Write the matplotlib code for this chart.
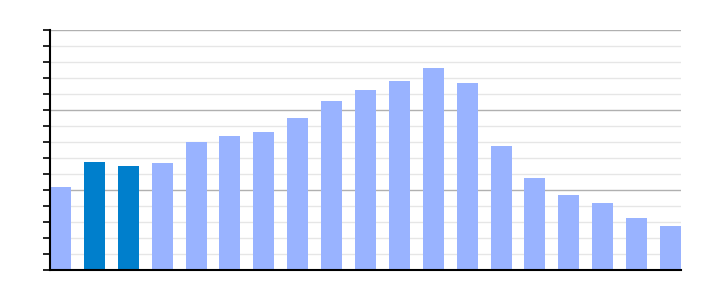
import numpy as np
import matplotlib.pyplot as plt

values = [5.19, 6.75, 6.5, 6.69, 8.0, 8.38, 8.63, 9.5, 10.56, 11.25,
          11.81, 12.63, 11.69, 7.75, 5.75, 4.69, 4.19, 3.25, 2.75]
highlight = [1, 2]

light = '#99b3ff'
dark = '#007fcc'

x = np.arange(len(values))
colors = [dark if i in highlight else light for i in x]

fig = plt.figure(figsize=(7.1, 3.0), dpi=100)
ax = fig.add_axes([50 / 710, 30 / 300, 631 / 710, 240 / 300])

bw = 0.62
ax.bar(x, values, width=bw, color=colors, zorder=3)

ax.set_xlim(-bw / 2, len(values) - 1 + bw / 2)
ax.set_ylim(0, 15)

ax.set_yticks(np.arange(0, 16, 5))
ax.set_yticks(np.arange(0, 16, 1), minor=True)
ax.set_xticks([])
ax.tick_params(axis='y', which='both', direction='out', length=5, width=1.2,
               labelleft=False, color='black')
ax.grid(axis='y', which='minor', color='#e6e6e6', linewidth=1, zorder=0)
ax.grid(axis='y', which='major', color='#b0b0b0', linewidth=1, zorder=1)

for s in ['top', 'right']:
    ax.spines[s].set_visible(False)
ax.spines['left'].set_linewidth(1.5)
ax.spines['bottom'].set_linewidth(1.5)
ax.spines['left'].set_zorder(5)
ax.spines['bottom'].set_zorder(5)

fig.savefig('out.png', dpi=100)
